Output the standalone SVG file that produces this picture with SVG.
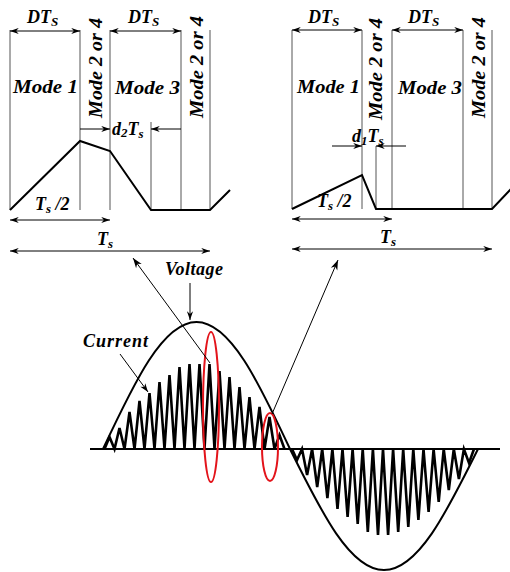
<svg xmlns="http://www.w3.org/2000/svg" width="510" height="572" viewBox="0 0 510 572">
<defs>
<style>
.t{font-weight:bold;font-style:italic;font-size:18px;fill:#000}
.sub{font-size:13px}
.g{stroke:#555;stroke-width:1;fill:none}
.a{stroke:#000;stroke-width:1;fill:none}
.w{stroke:#000;stroke-width:2;fill:none;stroke-linejoin:miter}
.sp{stroke:#000;stroke-width:2.6;fill:none;stroke-linejoin:miter;stroke-miterlimit:4}
.red{stroke:#e3141b;stroke-width:2;fill:none}
</style>
<marker id="ah" viewBox="0 0 10 8" refX="10" refY="4" markerWidth="9" markerHeight="7" markerUnits="userSpaceOnUse" orient="auto-start-reverse">
<path d="M0,0.5 L10,4 L0,7.5 L3,4 z" fill="#000"/>
</marker>
<marker id="ahL" viewBox="0 0 10 8" refX="10" refY="4" markerWidth="12" markerHeight="8" markerUnits="userSpaceOnUse" orient="auto">
<path d="M0,0.5 L10,4 L0,7.5 L3,4 z" fill="#000"/>
</marker>
</defs>
<rect width="510" height="572" fill="#fff"/>

<g id="panel-left" font-family="Liberation Serif, Times New Roman, serif">
<path class="g" d="M10,30V210M80,30V210M110,30V210M181,30V210M210,30V210M151,122V210"/>
<polyline class="w" points="10,210 80,141 110,151 151,210 210,210 230,190"/>
<text class="t" x="27" y="23">DT<tspan class="sub" dy="3">S</tspan></text>
<text class="t" x="128" y="23">DT<tspan class="sub" dy="3">S</tspan></text>
<text class="t" x="13" y="93" textLength="65" lengthAdjust="spacingAndGlyphs">Mode 1</text>
<text class="t" x="115" y="94" textLength="65" lengthAdjust="spacingAndGlyphs">Mode 3</text>
<text class="t" transform="translate(102,118) rotate(-90)" textLength="100" lengthAdjust="spacingAndGlyphs">Mode 2 or 4</text>
<text class="t" transform="translate(203,118) rotate(-90)" textLength="102" lengthAdjust="spacingAndGlyphs">Mode 2 or 4</text>
<text class="t" x="112" y="135">d<tspan class="sub" dy="2">2</tspan><tspan dy="-2">T</tspan><tspan class="sub" dy="3">s</tspan></text>
<text class="t" x="35" y="210">T<tspan class="sub" dy="3">s</tspan><tspan dy="-3"> /2</tspan></text>
<text class="t" x="97" y="245">T<tspan class="sub" dy="3">s</tspan></text>
</g>

<g id="panel-right" font-family="Liberation Serif, Times New Roman, serif">
<path class="g" d="M292,30V209M362,30V209M392,30V209M463,30V209M492,30V209M376,146V209"/>
<polyline class="w" points="292,209 362,175 376,209 492,209 511,189"/>
<text class="t" x="308" y="23">DT<tspan class="sub" dy="3">S</tspan></text>
<text class="t" x="408" y="23">DT<tspan class="sub" dy="3">S</tspan></text>
<text class="t" x="297" y="93" textLength="63" lengthAdjust="spacingAndGlyphs">Mode 1</text>
<text class="t" x="398" y="94" textLength="64" lengthAdjust="spacingAndGlyphs">Mode 3</text>
<text class="t" transform="translate(382,120) rotate(-90)" textLength="102" lengthAdjust="spacingAndGlyphs">Mode 2 or 4</text>
<text class="t" transform="translate(485,118) rotate(-90)" textLength="101" lengthAdjust="spacingAndGlyphs">Mode 2 or 4</text>
<text class="t" x="352" y="142">d<tspan class="sub" dy="3">1</tspan><tspan dy="-3">T</tspan><tspan class="sub" dy="3">s</tspan></text>
<text class="t" x="317" y="207">T<tspan class="sub" dy="3">s</tspan><tspan dy="-3"> /2</tspan></text>
<text class="t" x="380" y="243">T<tspan class="sub" dy="3">s</tspan></text>
</g>

<g id="waveform" font-family="Liberation Serif, Times New Roman, serif">
<path class="w" d="M90,449H500"/>
<path class="w" d="M103,449C134.25,382.3 162.8,322 196.5,322C230.2,322 258.75,382.3 290,449C321.4,512.5 350.1,570 384,570C417.9,570 446.6,512.5 478,449"/>
<polyline class="sp" points="104.5,449 109.5,437 114.5,449 119.5,428 124.5,449 129.5,412 134.5,449 139.5,401 144.5,449 149.5,393 154.5,449 159.5,382 164.5,449 169.5,375 174.5,449 179.5,367 184.5,449 189.5,364 194.5,449 199.5,364 204.5,449 209.5,364 214.5,449 219.5,371 224.5,449 229.5,377 234.5,449 239.5,387 244.5,449 249.5,397 254.5,449 259.5,407 264.5,449 269.5,417 274.5,449 279.5,435 284.5,449"/>
<polyline class="sp" points="292,449 297,460 302,449 307.1,475 312.1,449 317.2,487 322.2,449 327.4,498 332.4,449 337.5,509 342.5,449 347.6,517 352.6,449 357.7,524 362.7,449 367.8,532 372.9,449 378,535 383,449 388.1,535 393.1,449 398.2,532 403.2,449 408.3,527 413.3,449 418.4,520 423.5,449 428.6,512 433.6,449 438.7,502 443.7,449 448.8,490 453.8,449 458.9,479 463.9,449 469,463 474,449"/>
<ellipse class="red" cx="211" cy="407" rx="8" ry="75"/>
<ellipse class="red" cx="270" cy="447" rx="8" ry="34"/>
<text class="t" x="165" y="275" textLength="58">Voltage</text>
<text class="t" x="83" y="347" textLength="65">Current</text>
</g>

<g id="connectors">
<line class="a" x1="10" y1="31" x2="80" y2="31" marker-start="url(#ah)" marker-end="url(#ah)"/>
<line class="a" x1="110" y1="31" x2="181" y2="31" marker-start="url(#ah)" marker-end="url(#ah)"/>
<line class="a" x1="292" y1="30" x2="362" y2="30" marker-start="url(#ah)" marker-end="url(#ah)"/>
<line class="a" x1="392" y1="30" x2="463" y2="30" marker-start="url(#ah)" marker-end="url(#ah)"/>
<line class="a" x1="10" y1="220" x2="110" y2="220" marker-start="url(#ah)" marker-end="url(#ah)"/>
<line class="a" x1="10" y1="251" x2="210" y2="251" marker-start="url(#ah)" marker-end="url(#ah)"/>
<line class="a" x1="292" y1="219" x2="392" y2="219" marker-start="url(#ah)" marker-end="url(#ah)"/>
<line class="a" x1="292" y1="249" x2="492" y2="249" marker-start="url(#ah)" marker-end="url(#ah)"/>
<line class="a" x1="80" y1="129" x2="110" y2="129" marker-end="url(#ah)"/>
<line class="a" x1="181" y1="129" x2="151" y2="129" marker-end="url(#ah)"/>
<line class="a" x1="332" y1="146" x2="362" y2="146" marker-end="url(#ah)"/>
<line class="a" x1="406" y1="146" x2="376" y2="146" marker-end="url(#ah)"/>
<line class="a" x1="190" y1="283" x2="190" y2="320" marker-end="url(#ah)"/>
<line class="a" x1="120" y1="354" x2="148" y2="392" marker-end="url(#ah)"/>
<line class="a" x1="210" y1="363" x2="133" y2="258" marker-end="url(#ahL)"/>
<line class="a" x1="272" y1="414" x2="338" y2="260" marker-end="url(#ahL)"/>
</g>
</svg>
